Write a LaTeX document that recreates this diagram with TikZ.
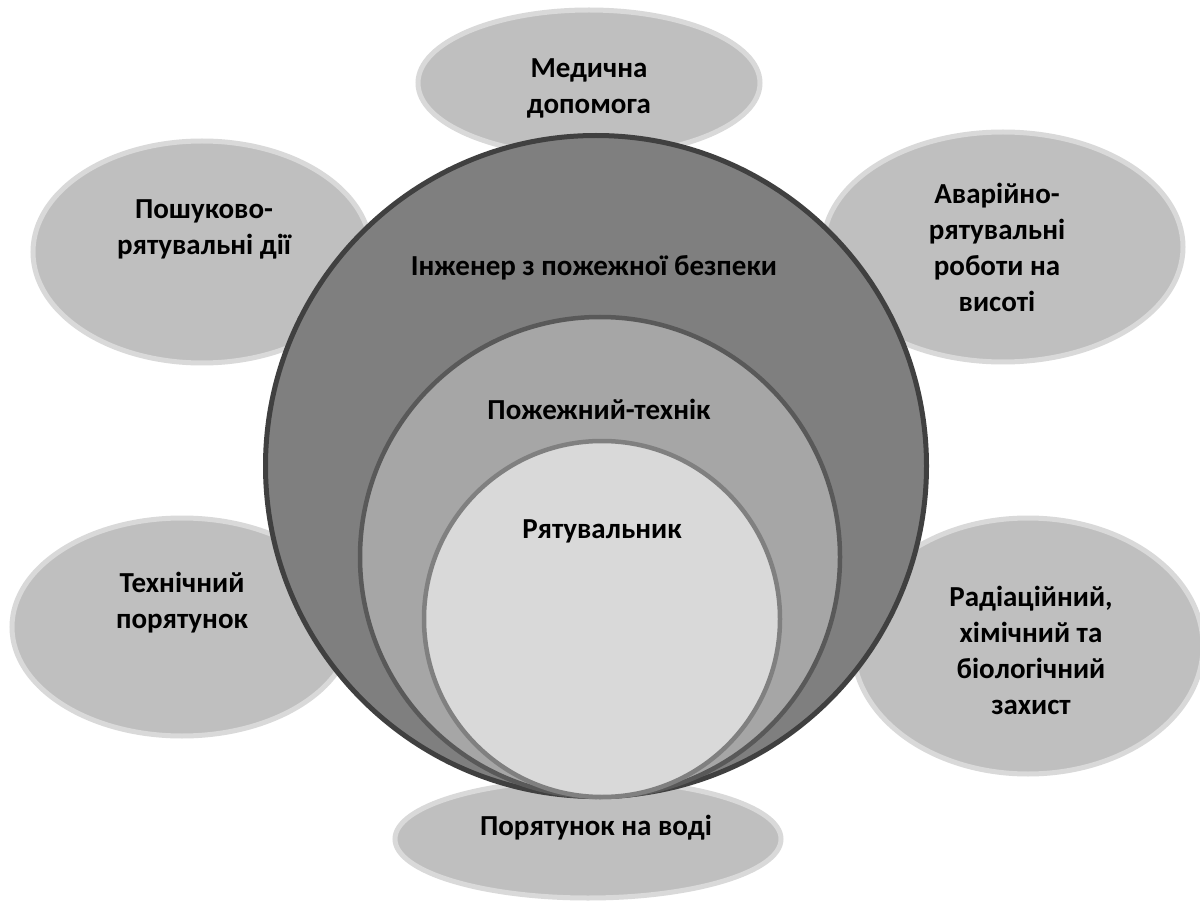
\documentclass[tikz,border=0pt]{standalone}
\usepackage{fontspec}
\setmainfont{Carlito}
\usetikzlibrary{shapes.geometric}
\definecolor{ovalfill}{HTML}{BFBFBF}
\definecolor{ovalline}{HTML}{D9D9D9}
\definecolor{outerfill}{HTML}{7F7F7F}
\definecolor{outerline}{HTML}{404040}
\definecolor{midfill}{HTML}{A6A6A6}
\definecolor{midline}{HTML}{595959}
\definecolor{innerfill}{HTML}{D9D9D9}
\definecolor{innerline}{HTML}{808080}
\begin{document}
\begin{tikzpicture}[x=1pt,y=-1pt,
  oval/.style={ellipse, draw=ovalline, fill=ovalfill, line width=5pt, inner sep=0pt, outer sep=0pt},
  ring/.style={circle, inner sep=0pt, outer sep=0pt},
  lbl/.style={font=\fontsize{29}{36}\selectfont\bfseries, align=center, text=black, inner sep=0pt}]
\useasboundingbox[fill=white] (0,0) rectangle (1200,901);
% outer ovals
\node[oval, minimum width=342pt, minimum height=146pt] (omed) at (589,83) {};
\node[oval, minimum width=338pt, minimum height=222pt] (opos) at (202,252) {};
\node[oval, minimum width=360pt, minimum height=230pt] (oava) at (1003,247) {};
\node[oval, minimum width=340pt, minimum height=218pt] (otech) at (182,627) {};
\node[oval, minimum width=350pt, minimum height=256pt] (orad) at (1028,646) {};
\node[oval, minimum width=386pt, minimum height=118pt] (ovod) at (588,839) {};
% nested circles
\node[ring, draw=outerline, fill=outerfill, line width=5pt, minimum size=661pt] (couter) at (596,466) {};
\node[ring, draw=midline, fill=midfill, line width=4.5pt, minimum size=480pt] (cmid) at (600,557) {};
\node[ring, draw=innerline, fill=innerfill, line width=4.5pt, minimum size=356pt] (cinner) at (602,619) {};
% labels
\node[lbl] (tmed) at (589,88) {Медична\\допомога};
\node[lbl] (tpos) at (204,229) {Пошуково-\\рятувальні дії};
\node[lbl] (tava) at (997,247) {Аварійно-\\рятувальні\\роботи на\\висоті};
\node[lbl] (ttech) at (182,603) {Технічний\\порятунок};
\node[lbl] (trad) at (1031,650) {Радіаційний,\\хімічний та\\біологічний\\захист};
\node[lbl] (tvod) at (596,828) {Порятунок на воді};
\node[lbl] (teng) at (594,268) {Інженер з пожежної безпеки};
\node[lbl] (ttechn) at (599,409) {Пожежний-технік};
\node[lbl] (tresc) at (602,531) {Рятувальник};
\end{tikzpicture}
\end{document}
